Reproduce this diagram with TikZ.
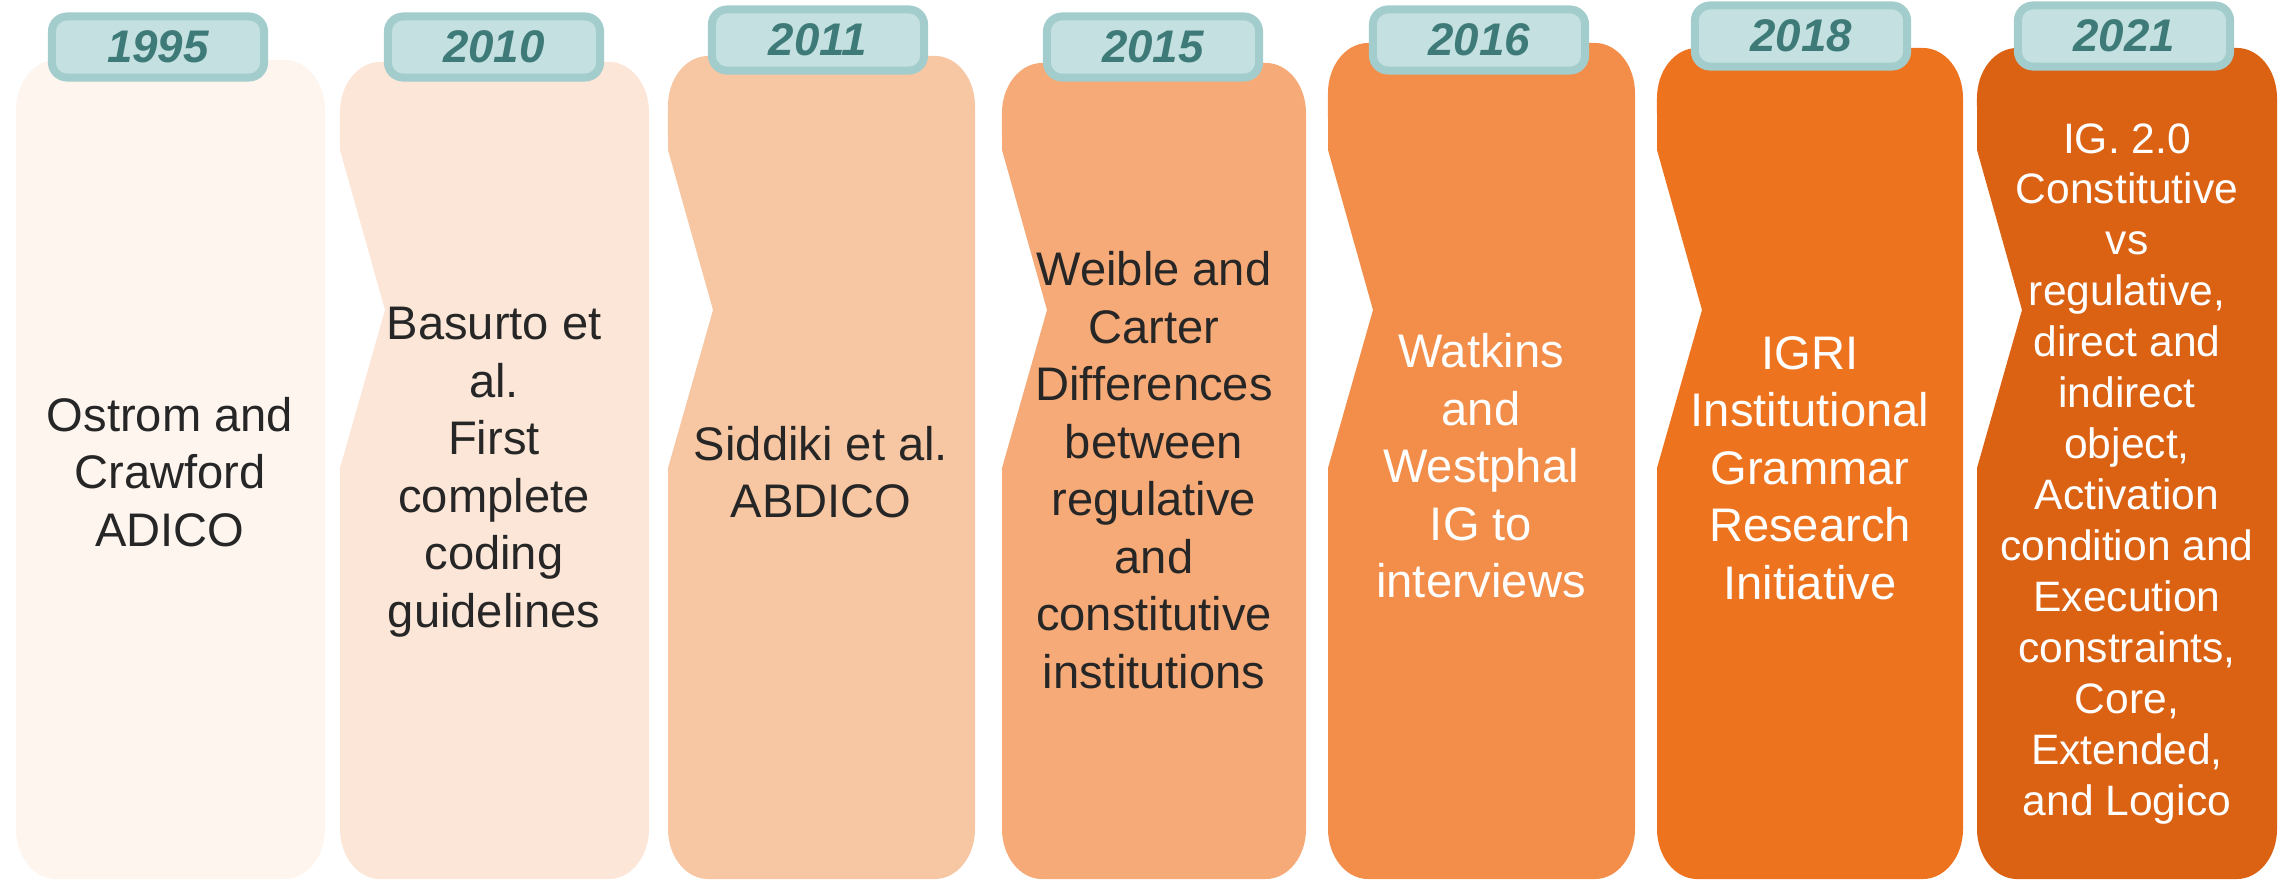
\documentclass[tikz,border=0pt]{standalone}
\usepackage{fontspec}
\setmainfont{Liberation Sans}
\definecolor{cA}{HTML}{FEF5EF}
\definecolor{cB}{HTML}{FCE6D8}
\definecolor{cC}{HTML}{F7C6A2}
\definecolor{cD}{HTML}{F5AA77}
\definecolor{cE}{HTML}{F28E4A}
\definecolor{cF}{HTML}{EE731F}
\definecolor{cG}{HTML}{DB6113}
\definecolor{tabedge}{HTML}{A2CDCC}
\definecolor{tabfill}{HTML}{C4E0E0}
\definecolor{tabtext}{HTML}{3E7B78}
\definecolor{darktext}{HTML}{262626}
\tikzset{
  yeartab/.style={draw=tabedge, line width=0.08cm, fill=tabfill, rounded corners=0.15cm,
    minimum width=2.12cm, minimum height=0.61cm, inner sep=0pt,
    text=tabtext, font=\fontsize{13pt}{15pt}\selectfont\bfseries\itshape},
  bodytext/.style={align=center, inner sep=0pt, text=darktext,
    font=\fontsize{13.4pt}{16.36pt}\selectfont},
  smalltext/.style={align=center, inner sep=0pt, text=white,
    font=\fontsize{12.1pt}{14.5pt}\selectfont},
}
% #1 left, #2 right, #3 top, #4 colour
\newcommand\notchbox[4]{%
  \fill[#4] (#1,-468) -- (#1,-829) arc[start angle=180,end angle=270,x radius=0.4cm,y radius=0.5cm]
    -- (#2-40,-879) arc[start angle=270,end angle=360,x radius=0.4cm,y radius=0.5cm]
    -- (#2,-#3-50) arc[start angle=0,end angle=90,x radius=0.4cm,y radius=0.5cm]
    -- (#1+40,-#3) arc[start angle=90,end angle=180,x radius=0.4cm,y radius=0.5cm]
    -- (#1,-150) -- (#1+45,-310) -- cycle;}
\newcommand\plainbox[4]{%
  \fill[#4] (#1,-468) -- (#1,-829) arc[start angle=180,end angle=270,x radius=0.4cm,y radius=0.5cm]
    -- (#2-40,-879) arc[start angle=270,end angle=360,x radius=0.4cm,y radius=0.5cm]
    -- (#2,-#3-50) arc[start angle=0,end angle=90,x radius=0.4cm,y radius=0.5cm]
    -- (#1+40,-#3) arc[start angle=90,end angle=180,x radius=0.4cm,y radius=0.5cm]
    -- cycle;}
\begin{document}
\begin{tikzpicture}[x=0.01cm,y=0.01cm]
\useasboundingbox (0,0) rectangle (2293,-882);
\plainbox{16}{325}{60}{cA}
\notchbox{340}{649}{62}{cB}
\notchbox{668}{975}{56}{cC}
\notchbox{1002}{1306}{63}{cD}
\notchbox{1328}{1635}{43}{cE}
\notchbox{1657}{1963}{48}{cF}
\notchbox{1977}{2277}{48}{cG}

\node[bodytext] (t1) at (170,-472) {Ostrom and\\Crawford\\ADICO};
\node[bodytext] (t2) at (494,-472) {Basurto et\\al.\\First\\complete\\coding\\guidelines};
\node[bodytext] (t3) at (821,-472) {Siddiki et al.\\ABDICO};
\node[bodytext] (t4) at (1154,-470) {Weible and\\Carter\\Differences\\between\\regulative\\and\\constitutive\\institutions};
\node[bodytext,text=white] (t5) at (1481,-466) {Watkins\\and\\Westphal\\IG to\\interviews};
\node[bodytext,text=white] (t6) at (1810,-468) {IGRI\\Institutional\\Grammar\\Research\\Initiative};
\node[smalltext] (t7) at (2127,-474) {IG. 2.0\\Constitutive\\vs\\regulative,\\direct and\\indirect\\object,\\Activation\\condition and\\Execution\\constraints,\\Core,\\Extended,\\and Logico};

\node[yeartab] (y1) at (158,-47) {1995};
\node[yeartab] (y2) at (494,-47) {2010};
\node[yeartab] (y3) at (818,-40) {2011};
\node[yeartab] (y4) at (1153,-47) {2015};
\node[yeartab] (y5) at (1479,-40) {2016};
\node[yeartab] (y6) at (1801,-36) {2018};
\node[yeartab] (y7) at (2124,-36) {2021};
\end{tikzpicture}
\end{document}
